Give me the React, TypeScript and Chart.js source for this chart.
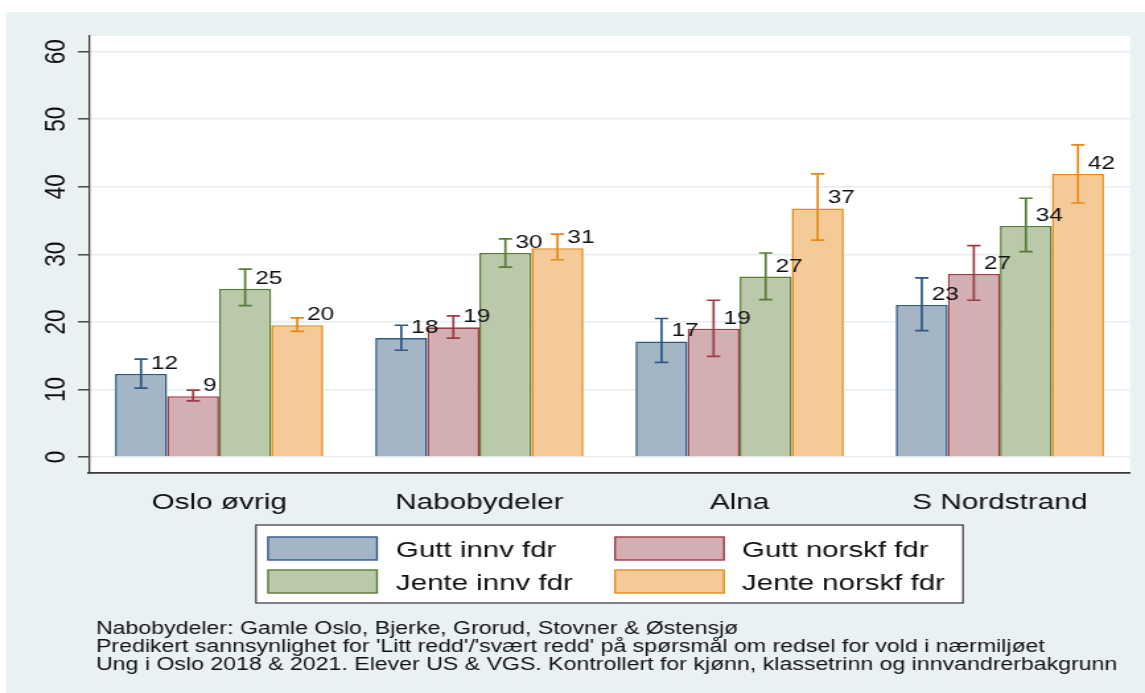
import React, { useEffect, useRef } from "react";
import { Chart, registerables } from "chart.js";

Chart.register(...registerables);

// ---- data ----
const categories = ["Oslo øvrig", "Nabobydeler", "Alna", "S Nordstrand"];
const seriesLabels = ["Gutt innv fdr", "Gutt norskf fdr", "Jente innv fdr", "Jente norskf fdr"];

const guttInnv = [12.3, 17.6, 17.1, 22.5];
const guttInnvLo = [10.2, 15.8, 14.0, 18.7];
const guttInnvHi = [14.5, 19.5, 20.5, 26.5];

const guttNorsk = [9.0, 19.2, 19.0, 27.1];
const guttNorskLo = [8.3, 17.6, 14.9, 23.2];
const guttNorskHi = [9.9, 20.9, 23.2, 31.3];

const jenteInnv = [24.9, 30.2, 26.7, 34.2];
const jenteInnvLo = [22.4, 28.1, 23.3, 30.4];
const jenteInnvHi = [27.8, 32.3, 30.2, 38.3];

const jenteNorsk = [19.5, 30.9, 36.8, 41.9];
const jenteNorskLo = [18.6, 29.2, 32.1, 37.6];
const jenteNorskHi = [20.6, 33.0, 41.9, 46.2];

const yTicks = [0, 10, 20, 30, 40, 50, 60];

const footnotes = [
  "Nabobydeler: Gamle Oslo, Bjerke, Grorud, Stovner & Østensjø",
  "Predikert sannsynlighet for 'Litt redd'/'svært redd' på spørsmål om redsel for vold i nærmiljøet",
  "Ung i Oslo 2018 & 2021. Elever US & VGS. Kontrollert for kjønn, klassetrinn og innvandrerbakgrunn",
];

// ---- styles ----
const fills = ["#a4b5c6", "#d3aeb2", "#bbc9ab", "#f4cb98"];
const lines = ["#2d5884", "#9b3c46", "#587b34", "#e88a14"];
const seriesValues = [guttInnv, guttNorsk, jenteInnv, jenteNorsk];
const seriesLo = [guttInnvLo, guttNorskLo, jenteInnvLo, jenteNorskLo];
const seriesHi = [guttInnvHi, guttNorskHi, jenteInnvHi, jenteNorskHi];

const FONT = '"Liberation Sans", Arial, Helvetica, sans-serif';
const SCREEN_W = 1145;
const H = 693;
const W = 867; // internal width; canvas is stretched horizontally like the reference
const S = SCREEN_W / W;
const hx = (v: number) => v / S;
const PANEL = "#eaf1f3";

const bgPlugin = {
  id: "bgPanel",
  beforeDraw(chart: any) {
    const { ctx, chartArea: a } = chart;
    ctx.save();
    ctx.fillStyle = "#ffffff";
    ctx.fillRect(0, 0, chart.width, chart.height);
    ctx.fillStyle = PANEL;
    ctx.fillRect(hx(6), 12, chart.width, chart.height);
    ctx.fillStyle = "#ffffff";
    ctx.fillRect(a.left, a.top, a.right - a.left, a.bottom - a.top);
    ctx.restore();
  },
};

const errPlugin = {
  id: "errBars",
  afterDatasetsDraw(chart: any) {
    const { ctx } = chart;
    const y = chart.scales.y;
    ctx.save();
    chart.data.datasets.forEach((ds: any, di: number) => {
      const meta = chart.getDatasetMeta(di);
      meta.data.forEach((el: any, i: number) => {
        const hi = y.getPixelForValue(seriesHi[di][i]);
        const lo = y.getPixelForValue(seriesLo[di][i]);
        const cap = hx(6.7);
        ctx.strokeStyle = lines[di];
        ctx.lineWidth = 1.7;
        ctx.beginPath();
        ctx.moveTo(el.x, hi);
        ctx.lineTo(el.x, lo);
        ctx.moveTo(el.x - cap, hi);
        ctx.lineTo(el.x + cap, hi);
        ctx.moveTo(el.x - cap, lo);
        ctx.lineTo(el.x + cap, lo);
        ctx.stroke();
      });
    });
    ctx.fillStyle = "#111";
    ctx.font = `18.5px ${FONT}`;
    ctx.textAlign = "left";
    ctx.textBaseline = "alphabetic";
    chart.data.datasets.forEach((ds: any, di: number) => {
      const meta = chart.getDatasetMeta(di);
      meta.data.forEach((el: any, i: number) => {
        ctx.fillText(String(Math.round(ds.data[i])), el.x + 7.5, el.y - 5);
      });
    });
    ctx.restore();
  },
};

const legendPlugin = {
  id: "boxLegend",
  afterDraw(chart: any) {
    const { ctx } = chart;
    ctx.save();
    const lx = hx(256), rx = hx(963), ty = 525, by = 603;
    ctx.fillStyle = "#ffffff";
    ctx.fillRect(lx, ty, rx - lx, by - ty);
    ctx.strokeStyle = "#333";
    ctx.lineWidth = 1.2;
    ctx.strokeRect(lx, ty, rx - lx, by - ty);
    const boxX = [hx(268), hx(615)];
    const textX = [hx(396), hx(742)];
    const rowY = [537, 570];
    const bw = hx(109), bh = 23;
    ctx.font = `22.3px ${FONT}`;
    ctx.textBaseline = "alphabetic";
    ctx.textAlign = "left";
    chart.data.datasets.forEach((ds: any, di: number) => {
      const c = di % 2, r = Math.floor(di / 2);
      ctx.fillStyle = fills[di];
      ctx.fillRect(boxX[c], rowY[r], bw, bh);
      ctx.strokeStyle = lines[di];
      ctx.lineWidth = 1.4;
      ctx.strokeRect(boxX[c], rowY[r], bw, bh);
      ctx.fillStyle = "#111";
      ctx.fillText(ds.label, textX[c], rowY[r] + bh / 2 + 8);
    });
    ctx.font = `17.5px ${FONT}`;
    footnotes.forEach((t, i) => {
      ctx.fillText(t, hx(96), 633.5 + i * 18);
    });
    ctx.restore();
  },
};

export default function App() {
  const ref = useRef<HTMLCanvasElement | null>(null);
  useEffect(() => {
    if (!ref.current) return;
    Chart.defaults.font.family = FONT;
    const chart = new Chart(ref.current, {
      type: "bar",
      data: {
        labels: categories,
        datasets: seriesValues.map((vals, i) => ({
          label: seriesLabels[i],
          data: vals,
          backgroundColor: fills[i],
          borderColor: lines[i],
          borderWidth: 1.6,
          categoryPercentage: 0.8,
          barPercentage: 1.0,
        })),
      },
      options: {
        responsive: false,
        animation: false,
        devicePixelRatio: 1,
        layout: { padding: { top: 36, left: 0, right: W - hx(1130), bottom: H - 473 - 60 } },
        plugins: {
          legend: { display: false },
          tooltip: { enabled: false },
        },
        scales: {
          x: {
            grid: { display: false, drawTicks: false },
            border: { display: true, color: "#3a3a3a", width: 1.8 },
            ticks: {
              color: "#111",
              font: { size: 22.5 },
              padding: 16,
              autoSkip: false,
              maxRotation: 0,
              minRotation: 0,
            },
            afterFit: (s: any) => {
              s.height = 60;
            },
          },
          y: {
            min: -2.37,
            max: 62.32,
            afterBuildTicks: (axis: any) => {
              axis.ticks = yTicks.map((v) => ({ value: v }));
            },
            grid: {
              color: "#e6eef1",
              lineWidth: 1.6,
              drawTicks: true,
              tickLength: hx(11),
              tickColor: "#3a3a3a",
              tickWidth: 1.4,
            },
            border: { display: true, color: "#3a3a3a", width: 1.3 },
            ticks: {
              color: "#111",
              font: { size: 22.5 },
              minRotation: 90,
              maxRotation: 90,
              crossAlign: "center",
              padding: 4.2,
            },
            afterFit: (s: any) => {
              s.width = hx(89);
            },
          },
        },
      },
      plugins: [bgPlugin, errPlugin, legendPlugin],
    } as any);
    return () => chart.destroy();
  }, []);
  return (
    <div style={{ position: "absolute", left: 0, top: 0, width: SCREEN_W, height: H }}>
      <canvas
        ref={ref}
        width={W}
        height={H}
        style={{ width: SCREEN_W + "px", height: H + "px", display: "block" }}
      />
    </div>
  );
}
